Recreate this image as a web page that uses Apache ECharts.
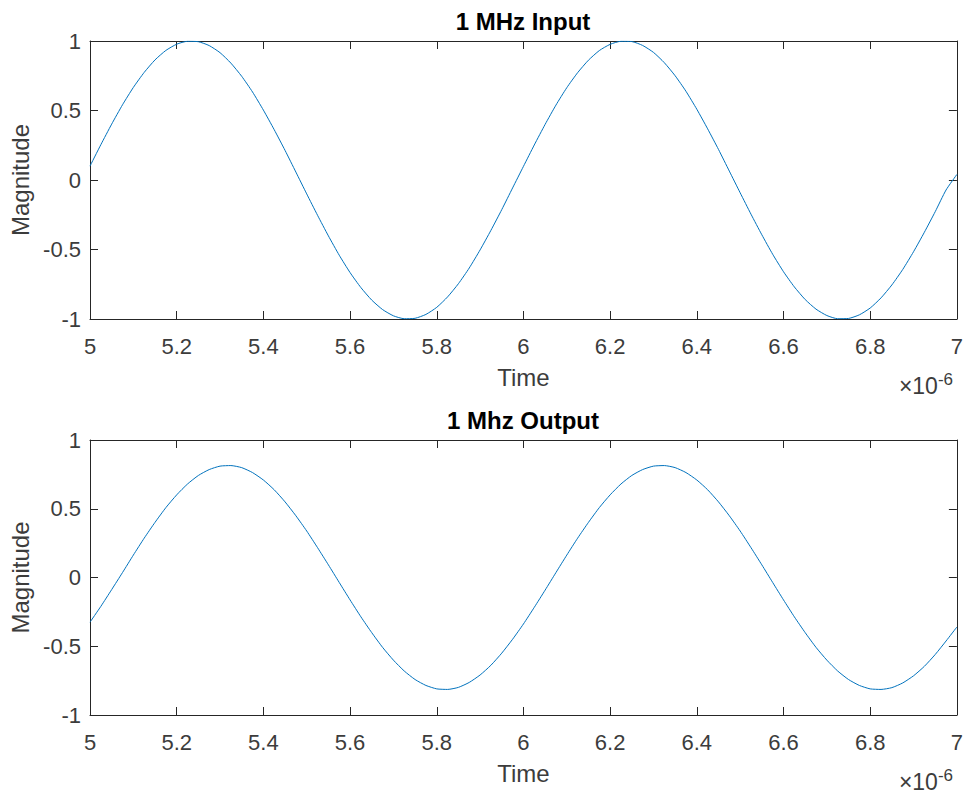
<!DOCTYPE html>
<html>
<head>
<meta charset="utf-8">
<script src="https://cdn.jsdelivr.net/npm/echarts@6/dist/echarts.min.js"></script>
<style>html,body{margin:0;padding:0;background:#fff}#c{width:966px;height:791px}</style>
</head>
<body>
<div id="c"></div>
<script>
// Time samples in units of 1e-6 s (step 0.025)
const timeStart = 5.0;
const timeStep = 0.025;
const inputMag = [
  0.100,0.254,0.402,0.541,0.666,0.774,0.864,0.932,0.977,0.998,0.995,0.967,0.916,0.841,0.746,0.633,0.503,0.362,0.213,0.057,
  -0.100,-0.254,-0.402,-0.541,-0.666,-0.774,-0.864,-0.932,-0.977,-0.998,-0.995,-0.967,-0.916,-0.841,-0.746,-0.633,-0.503,-0.362,-0.213,-0.057,
  0.098,0.252,0.400,0.539,0.664,0.772,0.862,0.931,0.976,0.998,0.996,0.968,0.918,0.844,0.750,0.638,0.509,0.368,0.220,0.064,
  -0.092,-0.246,-0.394,-0.534,-0.660,-0.769,-0.860,-0.929,-0.975,-0.998,-0.996,-0.970,-0.921,-0.848,-0.755,-0.644,-0.516,-0.376,-0.228,-0.072,
  0.040];
const outputMag = [
  -0.325,-0.210,-0.088,0.036,0.163,0.286,0.401,0.508,0.601,0.680,0.742,0.785,0.810,0.814,0.799,0.763,0.709,0.638,0.550,0.449,
  0.338,0.217,0.092,-0.036,-0.163,-0.286,-0.401,-0.508,-0.601,-0.680,-0.742,-0.785,-0.810,-0.814,-0.799,-0.763,-0.709,-0.638,-0.550,-0.449,
  -0.338,-0.217,-0.092,0.036,0.163,0.286,0.401,0.508,0.601,0.680,0.742,0.785,0.810,0.814,0.799,0.763,0.709,0.638,0.550,0.449,
  0.338,0.217,0.092,-0.036,-0.163,-0.286,-0.401,-0.508,-0.601,-0.680,-0.742,-0.785,-0.810,-0.814,-0.801,-0.767,-0.715,-0.646,-0.560,-0.462,
  -0.360];
const yTicks = [-1,-0.5,0,0.5,1];
const titles = ['1 MHz Input','1 Mhz Output'];
const xName = 'Time';
const yName = 'Magnitude';
const xExponent = '×10{s|-6}';

const FONT = 'Liberation Sans, Arial, sans-serif';
const AX = '#262626';
const LBL = '#3c3c3c';
const TICK_LEN = 8;
const grids = [
  {left: 90, right: 9, top: 41, height: 278, show: false},
  {left: 90, right: 9, top: 440, height: 275, show: false}
];
const xAxes = [], yAxes = [];
grids.forEach((g, i) => {
  ['bottom','top'].forEach(pos => {
    xAxes.push({
      type: 'value', gridIndex: i, position: pos, min: 5, max: 7, interval: 0.2,
      name: pos === 'bottom' ? xName : '', nameLocation: 'middle', nameGap: 46,
      nameTextStyle: {fontFamily: FONT, fontSize: 24, color: LBL},
      axisLine: {show: true, onZero: false, lineStyle: {color: AX, width: 1}},
      axisTick: {show: true, inside: true, length: TICK_LEN, lineStyle: {color: AX, width: 1}},
      axisLabel: {show: pos === 'bottom', margin: 16, fontFamily: FONT, fontSize: 22, color: LBL,
        formatter: v => String(Math.round(v * 10) / 10)},
      splitLine: {show: false}
    });
  });
  ['left','right'].forEach(pos => {
    yAxes.push({
      type: 'value', gridIndex: i, position: pos, min: -1, max: 1, interval: 0.5,
      name: pos === 'left' ? yName : '', nameLocation: 'middle', nameGap: 50, nameRotate: 90,
      nameTextStyle: {fontFamily: FONT, fontSize: 24, color: LBL},
      axisLine: {show: true, onZero: false, lineStyle: {color: AX, width: 1}},
      axisTick: {show: true, inside: true, length: TICK_LEN, lineStyle: {color: AX, width: 1}},
      axisLabel: {show: pos === 'left', margin: 9, fontFamily: FONT, fontSize: 22, color: LBL,
        formatter: v => yTicks.includes(v) ? String(v) : ''},
      splitLine: {show: false}
    });
  });
});

const mk = arr => arr.map((v, k) => [timeStart + k * timeStep, v]);
const exp = (y) => ({type: 'text', x: 953, y: y, style: {text: xExponent,
  rich: {s: {fontSize: 17, fontFamily: FONT, fill: LBL, padding: [0, 0, 14, 0]}},
  align: 'right', verticalAlign: 'middle', font: '23px ' + FONT, fill: LBL}});

const option = {
  backgroundColor: '#fff',
  animation: false,
  grid: grids,
  xAxis: xAxes,
  yAxis: yAxes,
  series: [
    {type: 'line', xAxisIndex: 0, yAxisIndex: 0, data: mk(inputMag),
      smooth: 0.2, showSymbol: false, lineStyle: {color: '#0072BD', width: 1}},
    {type: 'line', xAxisIndex: 2, yAxisIndex: 2, data: mk(outputMag),
      smooth: 0.2, showSymbol: false, lineStyle: {color: '#0072BD', width: 1}}
  ],
  graphic: [
    {type: 'text', x: 523, y: 21, style: {text: titles[0], align: 'center', verticalAlign: 'middle', font: 'bold 24px ' + FONT, fill: '#000'}},
    {type: 'text', x: 523, y: 420, style: {text: titles[1], align: 'center', verticalAlign: 'middle', font: 'bold 24px ' + FONT, fill: '#000'}},
    exp(386),
    exp(782)
  ]
};
const chart = echarts.init(document.getElementById('c'), null, {renderer: 'svg'});
chart.setOption(option);
</script>
</body>
</html>
